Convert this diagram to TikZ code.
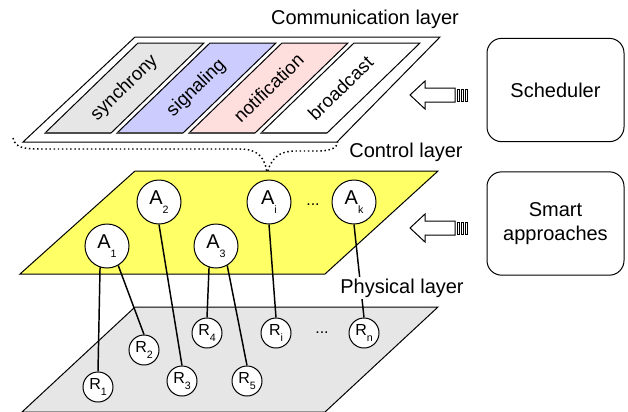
\documentclass[tikz,border=0pt]{standalone}
\usepackage{fontspec}
\setmainfont{Liberation Sans}

\definecolor{ctrlyellow}{HTML}{FFFF66}
\definecolor{physgray}{HTML}{E6E6E6}
\definecolor{syncgray}{HTML}{E6E6E6}
\definecolor{signalblue}{HTML}{CCCCFF}
\definecolor{notifpink}{HTML}{FFDEDE}

\newcommand{\idx}[1]{\raisebox{-0.8ex}{\fontsize{8}{8}\selectfont #1}}

\begin{document}
\begin{tikzpicture}[x = 0.75pt, y = -0.75pt, line width = 0.75pt,
	agent/.style = {circle, draw, fill = white, minimum size = 33pt, inner sep = 0pt, font = \fontsize{15}{15}\selectfont},
	res/.style = {circle, draw, fill = white, minimum size = 22.5pt, inner sep = 0pt, font = \fontsize{12}{12}\selectfont},
	lbl/.style = {font = \fontsize{15}{18}\selectfont},
	bandtext/.style = {sloped, midway, font = \fontsize{14}{15}\selectfont},
	link/.style = {line width = 1.1pt},
	box/.style = {draw, rounded corners = 11pt, minimum width = 102.75pt, minimum height = 77.5pt, align = center, font = \fontsize{15}{18}\selectfont}
	]
	\useasboundingbox (0, 0) rectangle (628, 411);
	
	%	communication layer
	\draw[fill = white] (23, 142) -- (337, 142) -- (440, 37) -- (135, 37) -- cycle;
	\foreach \x/\c/\t [count = \i] in {45/syncgray/synchrony, 117/signalblue/signaling, 189/notifpink/notification, 261/white/broadcast}
	{
		\draw[fill = \c] (\x, 133) -- (\x + 66, 133) -- (\x + 159, 43) -- (\x + 93, 43) -- cycle;
		\draw[line width = 1.3pt, black!70] (\x, 133) -- (\x + 66, 133);
		\path (\x + 33, 133) -- (\x + 126, 43) node[bandtext] (band\i) {\t};
	}
	\node[lbl] (comm) at (365, 19) {Communication layer};
	
	%	brace
	\draw[dotted, line width = 1.1pt] (13, 138) .. controls (15, 148) and (25, 149) .. (40, 149) -- (240, 149) .. controls (258, 149) and (266, 158) .. (267, 175);
	\draw[dotted, line width = 1.1pt] (267, 175) .. controls (270, 158) and (280, 151) .. (295, 151) -- (318, 151) .. controls (333, 151) and (338, 147) .. (338, 140);
	\node[lbl] (ctrl) at (406, 152) {Control layer};
	
	%	layers
	\draw[fill = physgray] (22, 412) -- (325, 412) -- (438, 307) -- (135, 307) -- cycle;
	\draw[fill = ctrlyellow] (20, 274) -- (325, 274) -- (438, 171) -- (135, 171) -- cycle;
	
	%	agents
	\node[agent] (A1) at (107, 246) {A\idx{1}};
	\node[agent] (A2) at (159, 202) {A\idx{2}};
	\node[agent] (A3) at (216, 246) {A\idx{3}};
	\node[agent] (Ai) at (269, 202) {A\idx{i}};
	\node[agent] (Ak) at (354, 202) {A\idx{k}};
	\node[font = \fontsize{12}{12}\selectfont] (adots) at (313, 205) {...};
	
	%	resources
	\node[res] (R1) at (98, 387) {R\idx{1}};
	\node[res] (R2) at (144, 350) {R\idx{2}};
	\node[res] (R3) at (182, 381) {R\idx{3}};
	\node[res] (R4) at (207, 333) {R\idx{4}};
	\node[res] (R5) at (247, 381) {R\idx{5}};
	\node[res] (Ri) at (276, 333) {R\idx{i}};
	\node[res] (Rn) at (364, 333) {R\idx{n}};
	\node[font = \fontsize{12}{12}\selectfont] (rdots) at (322, 333) {...};
	
	%	links
	\draw[link] (A1.-108) -- (R1.north);
	\draw[link] (A1.-60) -- (R2.north);
	\draw[link] (A2.south) -- (R3.north);
	\draw[link] (A3.-108) -- (R4.north);
	\draw[link] (A3.-60) -- (R5.north);
	\draw[link] (Ai.south) -- (Ri.north);
	\draw[link] (Ak.south) -- (Rn.north);
	\node[lbl, fill = white, inner sep = 1pt] (phys) at (402, 288) {Physical layer};
	
	%	boxes
	\node[box] (sched) at (555.5, 90) {Scheduler};
	\node[box] (smart) at (555.5, 223.5) {Smart\\approaches};
	
	%	arrows
	\foreach \y in {95, 228}
	{
		\draw[fill = white] (410, \y) -- (425, \y - 14) -- (425, \y - 7) -- (455, \y - 7) -- (455, \y + 7) -- (425, \y + 7) -- (425, \y + 14) -- cycle;
		\foreach \t in {457.5, 461.5, 465.5}
			\draw (\t, \y - 6) rectangle (\t + 2.2, \y + 6);
	}
\end{tikzpicture}
\end{document}
